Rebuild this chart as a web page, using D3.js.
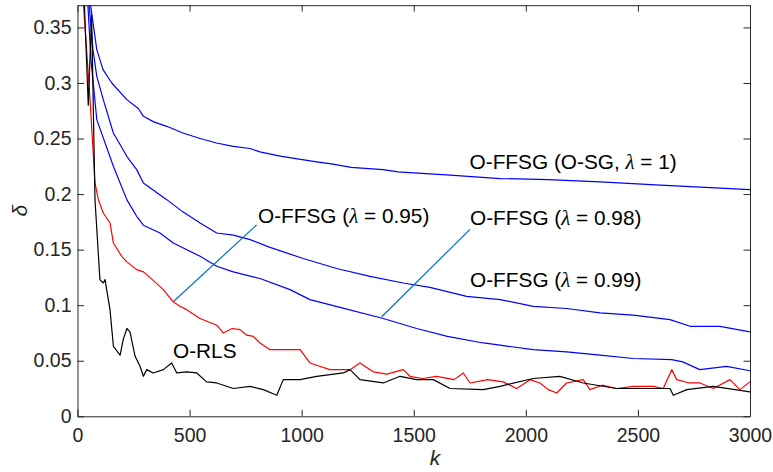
<!DOCTYPE html>
<html><head><meta charset="utf-8">
<script src="https://cdn.jsdelivr.net/npm/d3@7"></script>
<style>
html,body{margin:0;padding:0;background:#fff;}
svg{display:block;}
text{font-family:"Liberation Sans",Arial,Helvetica,sans-serif;}
</style></head>
<body>
<svg id="chart" width="773" height="472"></svg>
<script>
// ---- data ----
const xTicks = [0, 500, 1000, 1500, 2000, 2500, 3000];
const yTicks = [0, 0.05, 0.1, 0.15, 0.2, 0.25, 0.3, 0.35];
const yTickLabels = ["0", "0.05", "0.1", "0.15", "0.2", "0.25", "0.3", "0.35"];

// O-FFSG (O-SG, lambda = 1)
const kSG = [55, 86, 114, 153, 220, 271, 294, 340, 398, 470, 547, 620, 695, 770, 814, 910, 1067, 1140, 1220, 1364, 1430, 1500, 1662, 1885, 2100, 2331, 2600, 2800, 3000];
const vSG = [0.375, 0.330, 0.312, 0.300, 0.285, 0.277, 0.270, 0.265, 0.261, 0.255, 0.250, 0.246, 0.243, 0.241, 0.238, 0.234, 0.229, 0.227, 0.224, 0.222, 0.220, 0.219, 0.217, 0.214, 0.213, 0.211, 0.208, 0.206, 0.204];

// O-FFSG (lambda = 0.99)
const k99 = [50, 69, 86, 115, 160, 220, 264, 294, 398, 470, 547, 621, 695, 770, 859, 1007, 1156, 1305, 1453, 1572, 1736, 1885, 2033, 2182, 2331, 2479, 2643, 2733, 2866, 3000];
const v99 = [0.375, 0.330, 0.306, 0.285, 0.255, 0.234, 0.222, 0.210, 0.195, 0.184, 0.174, 0.165, 0.163, 0.159, 0.152, 0.142, 0.133, 0.126, 0.120, 0.116, 0.108, 0.105, 0.099, 0.097, 0.093, 0.091, 0.087, 0.081, 0.081, 0.076];

// O-FFSG (lambda = 0.98)
const k98 = [45, 60, 86, 160, 220, 264, 294, 368, 427, 547, 621, 695, 814, 948, 1037, 1171, 1364, 1513, 1650, 1810, 1885, 2033, 2182, 2331, 2479, 2651, 2700, 2776, 2896, 3000];
const v98 = [0.375, 0.321, 0.267, 0.225, 0.195, 0.180, 0.172, 0.165, 0.156, 0.144, 0.135, 0.130, 0.124, 0.114, 0.105, 0.098, 0.088, 0.079, 0.072, 0.066, 0.064, 0.060, 0.058, 0.055, 0.052, 0.051, 0.049, 0.042, 0.045, 0.041];

// O-FFSG (lambda = 0.95)
const k95 = [25, 56, 78, 93, 115, 145, 160, 197, 220, 264, 294, 323, 383, 427, 457, 487, 547, 621, 650, 690, 725, 755, 784, 814, 859, 918, 993, 1037, 1080, 1126, 1216, 1260, 1290, 1320, 1380, 1453, 1483, 1540, 1602, 1680, 1721, 1751, 1830, 1899, 1959, 2019, 2063, 2100, 2138, 2182, 2256, 2286, 2340, 2405, 2480, 2569, 2613, 2651, 2673, 2730, 2777, 2836, 2911, 2955, 3000];
const v95 = [0.375, 0.285, 0.210, 0.195, 0.183, 0.174, 0.156, 0.144, 0.139, 0.132, 0.130, 0.125, 0.114, 0.103, 0.099, 0.096, 0.088, 0.082, 0.075, 0.079, 0.078, 0.073, 0.072, 0.066, 0.060, 0.060, 0.060, 0.048, 0.045, 0.042, 0.042, 0.048, 0.044, 0.040, 0.038, 0.042, 0.036, 0.034, 0.036, 0.033, 0.039, 0.030, 0.033, 0.031, 0.025, 0.033, 0.030, 0.024, 0.021, 0.030, 0.033, 0.024, 0.028, 0.025, 0.027, 0.027, 0.025, 0.042, 0.033, 0.030, 0.030, 0.025, 0.033, 0.024, 0.031];

// O-RLS
const kRLS = [30, 48, 63, 78, 100, 115, 123, 130, 145, 160, 190, 204, 220, 234, 257, 279, 294, 309, 338, 383, 420, 443, 487, 532, 576, 621, 695, 770, 829, 889, 918, 993, 1067, 1186, 1216, 1260, 1364, 1439, 1513, 1587, 1662, 1810, 1885, 2033, 2152, 2256, 2405, 2554, 2643, 2658, 2718, 2836, 3000];
const vRLS = [0.375, 0.280, 0.361, 0.195, 0.123, 0.120, 0.123, 0.114, 0.096, 0.063, 0.055, 0.069, 0.079, 0.076, 0.054, 0.045, 0.036, 0.042, 0.039, 0.042, 0.048, 0.039, 0.040, 0.039, 0.031, 0.030, 0.025, 0.027, 0.024, 0.019, 0.033, 0.033, 0.036, 0.039, 0.042, 0.033, 0.030, 0.036, 0.033, 0.033, 0.025, 0.024, 0.027, 0.034, 0.036, 0.030, 0.025, 0.025, 0.025, 0.019, 0.024, 0.027, 0.022];

const seriesNames = ["O-FFSG (O-SG, λ = 1)", "O-FFSG (λ = 0.99)", "O-FFSG (λ = 0.98)", "O-FFSG (λ = 0.95)", "O-RLS"];

// ---- layout / style ----
const W = 773, H = 472;
const xS = d3.scaleLinear().domain([0, 3000]).range([77.5, 750]);
const yS = d3.scaleLinear().domain([0, 0.37]).range([416.3, 5.2]);
const axisColor = "#262626";
const tickFont = 19.5;
const annoFont = 20.8;

const series = [
  {k: kSG, v: vSG, color: "#0000ff"},
  {k: k99, v: v99, color: "#0000ff"},
  {k: k98, v: v98, color: "#0000ff"},
  {k: k95, v: v95, color: "#ff0000"},
  {k: kRLS, v: vRLS, color: "#000000"}
];

const svg = d3.select("#chart");
svg.append("rect").attr("width", W).attr("height", H).attr("fill", "#fff");

const [px0, px1] = xS.range();
const [py0, py1] = yS.range();

svg.append("defs").append("clipPath").attr("id", "clip")
  .append("rect").attr("x", px0).attr("y", py1).attr("width", px1 - px0).attr("height", py0 - py1);

const lineGen = d3.line().x(d => xS(d[0])).y(d => yS(d[1]));
const gLines = svg.append("g").attr("clip-path", "url(#clip)");
series.forEach(s => {
  const pts = s.k.map((k, i) => [k, s.v[i]]);
  gLines.append("path").datum(pts).attr("d", lineGen)
    .attr("fill", "none").attr("stroke", s.color).attr("stroke-width", 1.2)
    .attr("stroke-linejoin", "round");
});

// annotations (leader lines)
const leaders = [
  {from: [427, 0.1031], to: [799, 0.1722]},
  {from: [1357, 0.0896], to: [1751, 0.1683]}
];
leaders.forEach(l => {
  svg.append("line")
    .attr("x1", xS(l.from[0])).attr("y1", yS(l.from[1]))
    .attr("x2", xS(l.to[0])).attr("y2", yS(l.to[1]))
    .attr("stroke", "#0072BD").attr("stroke-width", 1.2);
});

const labelPos = [[1749, 0.2223], [1751, 0.1164], [1751, 0.1722], [805, 0.1737], [426, 0.0527]];
seriesNames.forEach((name, i) => {
  const t = svg.append("text").attr("x", xS(labelPos[i][0])).attr("y", yS(labelPos[i][1]))
    .attr("font-size", annoFont).attr("fill", "#000");
  const parts = name.split("λ");
  t.append("tspan").text(parts[0]);
  if (parts.length > 1) {
    t.append("tspan").text("λ").attr("font-style", "italic")
      .attr("font-family", "'Liberation Serif','Times New Roman',serif");
    t.append("tspan").text(parts[1]);
  }
});

// axes box
const gAx = svg.append("g");
const axB = d3.axisBottom(xS).tickValues(xTicks).tickSizeInner(-6.5).tickSizeOuter(0).tickPadding(12)
  .tickFormat(d3.format("d"));
const axT = d3.axisTop(xS).tickValues(xTicks).tickSizeInner(-6.5).tickSizeOuter(0).tickFormat("");
const axL = d3.axisLeft(yS).tickValues(yTicks).tickSizeInner(-6.5).tickSizeOuter(0).tickPadding(6)
  .tickFormat((d, i) => yTickLabels[i]);
const axR = d3.axisRight(yS).tickValues(yTicks).tickSizeInner(-6.5).tickSizeOuter(0).tickFormat("");

const gb = gAx.append("g").attr("transform", `translate(0,${py0})`).call(axB);
const gt = gAx.append("g").attr("transform", `translate(0,${py1})`).call(axT);
const gl = gAx.append("g").attr("transform", `translate(${px0},0)`).call(axL);
const gr = gAx.append("g").attr("transform", `translate(${px1},0)`).call(axR);
[gb, gt, gl, gr].forEach(g => {
  g.selectAll("path.domain").attr("stroke", axisColor).attr("stroke-width", 1);
  g.selectAll(".tick line").attr("stroke", axisColor).attr("stroke-width", 1);
  g.selectAll(".tick text").attr("fill", axisColor).attr("font-size", tickFont)
    .attr("font-family", "'Liberation Sans',Arial,sans-serif");
});
gb.selectAll(".tick text").attr("dy", "0.71em");

// axis labels
svg.append("text").attr("x", xS(1595)).attr("y", 465).attr("text-anchor", "middle")
  .attr("font-size", 21).attr("font-style", "italic").attr("fill", axisColor).text("k");
svg.append("text").attr("transform", `translate(27,${yS(0.185)}) rotate(-90)`).attr("text-anchor", "middle")
  .attr("font-size", 21).attr("font-style", "italic").attr("fill", axisColor)
  .attr("font-family", "'Liberation Serif','Times New Roman',serif").text("δ");
</script>
</body></html>
